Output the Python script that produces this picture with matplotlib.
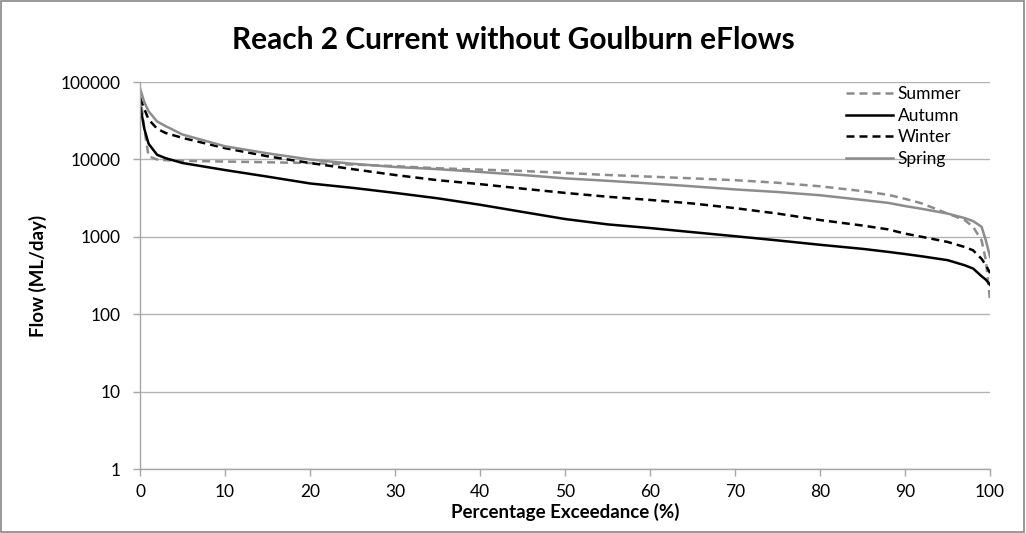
import matplotlib
matplotlib.use('Agg')
import matplotlib.pyplot as plt
import matplotlib.ticker as mticker
from matplotlib.patches import Rectangle

# exceedance percentages (shared by all seasons)
pct = [0, 0.5, 1, 2, 3, 5, 10, 15, 20, 25, 30, 35, 40, 45, 50, 55, 60, 65,
       70, 75, 80, 85, 88, 90, 92, 95, 97, 98, 99, 99.5, 100]

# flows in ML/day
summer = [70000, 25000, 11000, 10000, 9800, 9600, 9400, 9200, 9000, 8600, 8200,
          7700, 7400, 7100, 6700, 6300, 6000, 5700, 5400, 5000, 4500, 3900,
          3500, 3100, 2700, 2000, 1650, 1350, 900, 500, 150]
autumn = [50000, 25000, 16000, 11500, 10400, 9000, 7300, 6000, 4900, 4300, 3700,
          3150, 2600, 2100, 1700, 1450, 1300, 1150, 1020, 900, 790, 700,
          640, 600, 560, 500, 430, 390, 310, 280, 240]
winter = [62000, 45000, 33000, 25000, 22000, 19000, 14000, 11000, 9000, 7500, 6300,
          5400, 4800, 4200, 3700, 3300, 3000, 2700, 2350, 2000, 1650, 1400,
          1250, 1100, 1000, 860, 740, 670, 520, 430, 340]
spring = [83000, 55000, 42000, 31000, 27000, 21000, 14800, 12000, 10000, 8800, 8000,
          7500, 6900, 6300, 5700, 5300, 4900, 4500, 4100, 3800, 3450, 3000,
          2750, 2500, 2300, 2000, 1750, 1600, 1350, 900, 550]

y_ticks = [1, 10, 100, 1000, 10000, 100000]
x_ticks = list(range(0, 101, 10))

plt.rcParams['font.family'] = ['Lato', 'DejaVu Sans']

GRAY = '#8c8c8c'
AXIS_GRAY = '#a6a6a6'

fig = plt.figure(figsize=(10.26, 5.33), dpi=100)
ax = fig.add_axes([0.1365, 0.12, 0.8285, 0.726])

lw = 1.8
dash = (0, (3.2, 2.0))
ax.plot(pct, summer, color=GRAY, linestyle=dash, linewidth=lw, label='Summer')
ax.plot(pct, autumn, color='black', linestyle='-', linewidth=lw, label='Autumn')
ax.plot(pct, winter, color='black', linestyle=dash, linewidth=lw, label='Winter')
ax.plot(pct, spring, color=GRAY, linestyle='-', linewidth=lw, label='Spring')

ax.set_yscale('log')
ax.set_ylim(1, 100000)
ax.set_xlim(0, 100)
ax.set_yticks(y_ticks)
ax.yaxis.set_major_formatter(mticker.FuncFormatter(lambda v, p: f'{int(round(v))}'))
ax.yaxis.set_minor_locator(mticker.NullLocator())
ax.set_xticks(x_ticks)

ax.grid(True, axis='y', color='#b3b3b3', linewidth=1)
ax.set_axisbelow(True)
for side in ['top', 'right']:
    ax.spines[side].set_visible(False)
for side in ['left', 'bottom']:
    ax.spines[side].set_color(AXIS_GRAY)
    ax.spines[side].set_linewidth(1)
ax.tick_params(axis='both', colors=AXIS_GRAY, labelcolor='black', labelsize=12.5,
               length=5, width=1, direction='out')
ax.tick_params(axis='y', pad=9)
ax.tick_params(axis='x', pad=6)

fig.text(0.5, 0.925, 'Reach 2 Current without Goulburn eFlows', fontsize=21.5,
         fontweight='bold', ha='center', va='center')
ax.set_xlabel('Percentage Exceedance (%)', fontsize=13.5, fontweight='bold', labelpad=2)
ax.set_ylabel('Flow (ML/day)', fontsize=13.5, fontweight='bold', labelpad=10)

ax.legend(loc='upper left', bbox_to_anchor=(0.822, 1.008), frameon=False, fontsize=12.5,
          handlelength=2.7, handletextpad=0.3, labelspacing=0.33, borderaxespad=0)

# outer chart border
fig.patches.append(Rectangle((0.001, 0.002), 0.997, 0.996, transform=fig.transFigure,
                             fill=False, edgecolor='#888888', linewidth=1.2))

fig.savefig('out.png', dpi=100)
